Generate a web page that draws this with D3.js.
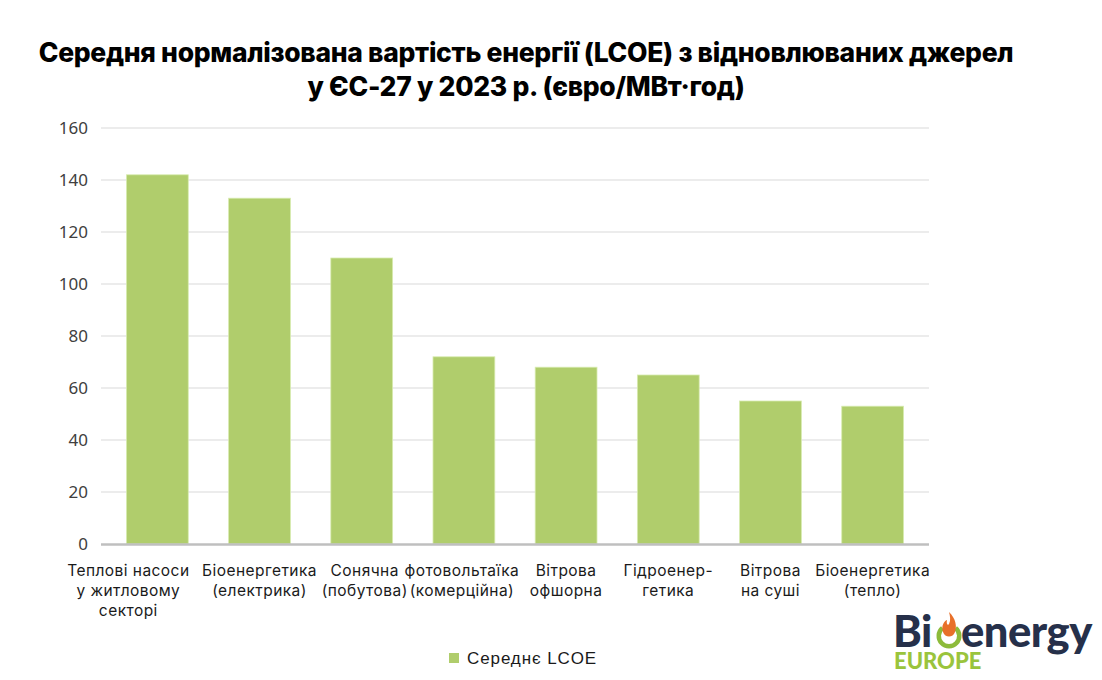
<!DOCTYPE html>
<html><head><meta charset="utf-8">
<script src="https://cdn.jsdelivr.net/npm/d3@7"></script>
<style>body{margin:0;background:#fff}svg{display:block}</style>
</head><body>
<svg id="c" width="1102" height="680"></svg>
<script>
const categories = [
  ["Теплові насоси","у житловому","секторі"],
  ["Біоенергетика","(електрика)"],
  ["Сонячна","(побутова)"],
  ["фотовольтаїка","(комерційна)"],
  ["Вітрова","офшорна"],
  ["Гідроенер-","гетика"],
  ["Вітрова","на суші"],
  ["Біоенергетика","(тепло)"]
];
const values = [142, 133, 110, 72, 68, 65, 55, 53];
const yTicks = [0,20,40,60,80,100,120,140,160];
const titleLines = ["Середня нормалізована вартість енергії (LCOE) з відновлюваних джерел","у ЄС-27 у 2023 р. (євро/МВт·год)"];
const seriesName = "Середнє LCOE";

const svg = d3.select("#c");
const barColor = "#b0cd6c";
const x = d3.scaleBand().domain(d3.range(values.length)).range([106, 924]).paddingInner(0.395).paddingOuter(0.2);
const y = d3.scaleLinear().domain([0,160]).range([544,128]);
// label centre shifts (first label is pushed left to avoid overlapping its neighbour)
const labelShift = [-29, 0, 3, -2, 0, 0, 0, 0];

// title
svg.append("g").selectAll("text").data(titleLines).join("text")
  .attr("x", 526).attr("y", (d,i)=>62+i*34)
  .attr("text-anchor","middle")
  .attr("font-family","Inter, 'DejaVu Sans', sans-serif")
  .attr("font-weight",800).attr("font-size",26.5).attr("fill","#000")
  .attr("letter-spacing","-0.3")
  .text(d=>d);

// gridlines
svg.append("g").selectAll("line").data(yTicks.filter(t=>t>0)).join("line")
  .attr("x1",101).attr("x2",929).attr("y1",d=>y(d)).attr("y2",d=>y(d))
  .attr("stroke","#d9d9d9").attr("stroke-width",1);

// y axis labels
const yAxis = d3.axisLeft(y).tickValues(yTicks).tickSize(0).tickPadding(0);
const ya = svg.append("g").attr("transform","translate(88,0)").call(yAxis);
ya.select(".domain").remove();
ya.selectAll("text").attr("font-family","'Noto Sans', 'Open Sans', sans-serif").attr("font-size",17).attr("fill","#404040");

// bars
svg.append("g").selectAll("rect").data(values).join("rect")
  .attr("x",(d,i)=>x(i)).attr("width",x.bandwidth())
  .attr("y",d=>y(d)).attr("height",d=>y(0)-y(d))
  .attr("fill",barColor).attr("stroke","#d8ebb0").attr("stroke-width",0.8);

// baseline
svg.append("line").attr("x1",101).attr("x2",929).attr("y1",y(0)+0.5).attr("y2",y(0)+0.5)
  .attr("stroke","#bfbfbf").attr("stroke-width",2.5);

// category labels
const cg = svg.append("g");
categories.forEach((lines,i)=>{
  const cx = x(i)+x.bandwidth()/2+labelShift[i];
  cg.append("text").attr("x",cx).attr("y",576)
    .attr("text-anchor","middle")
    .attr("font-family","Inter, Roboto, sans-serif").attr("font-size",15.5).attr("fill","#1a1a1a")
    .attr("letter-spacing","0.45")
    .selectAll("tspan").data(lines).join("tspan")
    .attr("x",cx).attr("dy",(d,j)=>j?20:0).text(d=>d);
});

// legend
svg.append("rect").attr("x",449).attr("y",653).attr("width",10).attr("height",10).attr("fill",barColor);
svg.append("text").attr("x",467).attr("y",664)
  .attr("font-family","'Liberation Sans', Arial, sans-serif").attr("font-size",17).attr("letter-spacing","0.9")
  .attr("fill","#1a1a1a").text(seriesName);

// logo
const lg = svg.append("g");
lg.append("text").attr("x",893).attr("y",647).attr("font-family","Lato, 'Open Sans', sans-serif")
  .attr("font-weight",900).attr("font-size",43.5).attr("fill","#26304a").attr("letter-spacing","-0.5").text("Bi");
lg.append("text").attr("x",961).attr("y",647).attr("font-family","Lato, 'Open Sans', sans-serif")
  .attr("font-weight",900).attr("font-size",43.5).attr("fill","#26304a").attr("letter-spacing","-0.5").text("energy");
// ring
const arc = d3.arc().innerRadius(8).outerRadius(12.5).startAngle(Math.PI*0.22).endAngle(Math.PI*1.78);
lg.append("path").attr("d",arc()).attr("transform","translate(949,636)").attr("fill","#8dbb3a");
lg.append("path").attr("d","M949,612 C956,619 957,626 955,632 C953,638 945,638 943,632 C941,626 944,621 947,620 C946,624 948,626 949,624 C951,620 950,616 949,612 Z").attr("fill","#e8702a");
lg.append("text").attr("x",894).attr("y",669).attr("font-family","Lato, 'Open Sans', sans-serif")
  .attr("font-weight",900).attr("font-size",22).attr("fill","#9ac43c").text("EUROPE");
</script>
</body></html>
